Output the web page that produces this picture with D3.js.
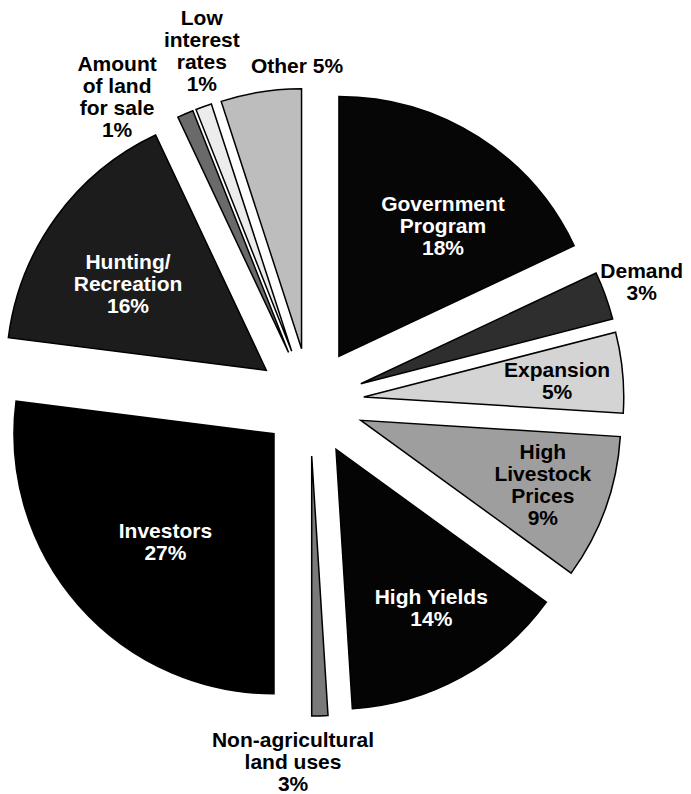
<!DOCTYPE html>
<meta charset="utf-8">
<style>
  body { margin: 0; background: #fff; }
  .lbl { font-family: "Liberation Sans", Arial, Helvetica, sans-serif; font-weight: bold; font-size: 21px; }
</style>

<body>
  <div id="chart"></div>

  <script src="https://cdnjs.cloudflare.com/ajax/libs/d3/7.8.5/d3.min.js"></script>
  <script>
    // reasons, clockwise from 12 o'clock
    var categories = ['Government Program', 'Demand', 'Expansion', 'High Livestock Prices', 'High Yields',
      'Non-agricultural land uses', 'Investors', 'Hunting/Recreation', 'Amount of land for sale',
      'Low interest rates', 'Other']
    // share of the circle as drawn
    var shares = [18, 3, 5, 9, 14, 1, 27, 16, 1, 1, 5]
    // percentages printed on the chart
    var printed = ['18%', '3%', '5%', '9%', '14%', '3%', '27%', '16%', '1%', '1%', '5%']
    // label lines as printed
    var labelLines = [
      ['Government', 'Program'],
      ['Demand'],
      ['Expansion'],
      ['High', 'Livestock', 'Prices'],
      ['High Yields'],
      ['Non-agricultural', 'land uses'],
      ['Investors'],
      ['Hunting/', 'Recreation'],
      ['Amount', 'of land', 'for sale'],
      ['Low', 'interest', 'rates'],
      ['Other 5%']
    ]

    var width = 691, height = 794
    var center = [310, 402]
    var radius = 260

    var fills = ['#060606', '#2e2e2e', '#d4d4d4', '#9e9e9e', '#040404', '#7a7a7a', '#000000',
      '#1c1c1c', '#6a6a6a', '#ececec', '#bdbdbd']
    var textFill = ['#fff', '#000', '#000', '#000', '#fff', '#000', '#fff', '#fff', '#000', '#000', '#000']
    var explode = [54, 54, 54, 54, 54, 54, 48, 54, 54, 54, 54]
    // label placement: [angle in degrees clockwise from north, distance from pie centre]
    var labelPos = [[37, 221], [70, 353], [85, 248], [109.5, 247], [149.5, 239], [182.7, 360],
      [226, 201], [303, 217], [327.7, 361], [342.9, 368], [357.8, 337]]

    var svg = d3.select('#chart').append('svg')
      .attr('width', width)
      .attr('height', height)

    var g = svg.append('g')
      .attr('transform', 'translate(' + center[0] + ',' + center[1] + ')')

    var pie = d3.pie().sort(null).value(function (d) { return d; })
    var arcs = pie(shares)

    var arc = d3.arc().innerRadius(0).outerRadius(radius)

    g.selectAll('.slice')
      .data(arcs)
      .enter()
      .append('path')
      .attr('class', 'slice')
      .attr('d', arc)
      .attr('fill', function (d, i) { return fills[i]; })
      .attr('stroke', '#000')
      .attr('stroke-width', 1.5)
      .attr('stroke-linejoin', 'miter')
      .attr('transform', function (d, i) {
        var mid = (d.startAngle + d.endAngle) / 2
        return 'translate(' + explode[i] * Math.sin(mid) + ',' + (-explode[i] * Math.cos(mid)) + ')';
      })

    var lineH = 22
    var labels = g.selectAll('.lbl')
      .data(arcs)
      .enter()
      .append('text')
      .attr('class', 'lbl')
      .attr('text-anchor', 'middle')
      .attr('fill', function (d, i) { return textFill[i]; })
      .each(function (d, i) {
        var a = labelPos[i][0] * Math.PI / 180
        var x = labelPos[i][1] * Math.sin(a)
        var y = -labelPos[i][1] * Math.cos(a)
        var lines = labelLines[i].slice()
        if (categories[i] !== 'Other') lines.push(printed[i])
        var top = y - (lines.length - 1) * lineH / 2 + 7.5
        var t = d3.select(this)
        lines.forEach(function (s, k) {
          t.append('tspan')
            .attr('x', x)
            .attr('y', top + k * lineH)
            .text(s)
        })
      })
  </script>
</body>
